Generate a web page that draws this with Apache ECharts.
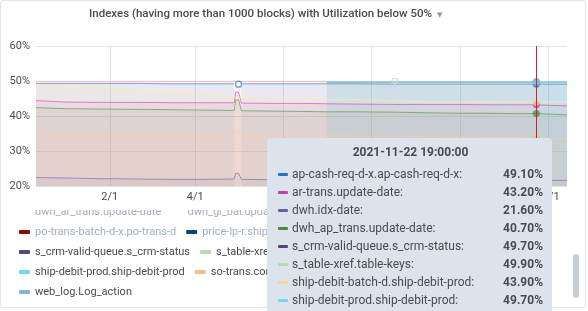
<!DOCTYPE html>
<html lang="en">
<head>
    <meta charset="UTF-8">
    <title>Indexes with Utilization below 50%</title>
    <script src="https://cdn.jsdelivr.net/npm/echarts@6/dist/echarts.min.js"></script>
    <style>
        * {
            margin: 0;
            padding: 0
        }

        html, body {
            width: 100%;
            height: 100%;
            overflow: hidden;
            background: #fff;
        }

        #panel {
            position: absolute;
            left: 0;
            top: 0;
            width: 584px;
            height: 306px;
            border: 1px solid #e1e5ea;
            border-radius: 3px;
        }

        #main {
            position: absolute;
            left: 0;
            top: 0;
            width: 588px;
            height: 311px;
        }
    </style>
</head>
<body>
    <div id="panel"></div>
    <div id="main"></div>
</body>
<script type="text/javascript">
    /*-------------------- data --------------------*/
    var times = ['2020-12-12', '2021-01-01', '2021-01-25', '2021-02-20', '2021-03-15', '2021-04-05',
        '2021-04-28', '2021-04-29', '2021-05-01', '2021-05-02', '2021-05-03', '2021-05-25', '2021-06-15',
        '2021-07-01', '2021-07-20', '2021-08-17', '2021-09-10', '2021-10-01', '2021-10-20', '2021-11-05',
        '2021-11-22 19:00:00', '2021-12-05', '2021-12-14'];

    var apCash    = [49.3, 49.3, 49.3, 49.3, 49.2, 49.2, 49.2, null, 49.1, null, 49.2, 49.2, 49.2, 49.2, 49.2, 49.1, 49.1, 49.1, 49.1, 49.1, 49.1, 49.1, 49.1];
    var arTrans   = [44.4, 44.0, 43.9, 43.9, 43.8, 43.8, 43.8, 46.8, 46.8, 46.8, 43.7, 43.6, 43.6, 43.5, 43.4, 43.3, 43.3, 43.3, 43.2, 43.2, 43.2, 43.0, 42.9];
    var dwhIdx    = [22.4, 22.3, 22.1, 22.0, 21.9, 21.9, 22.0, 23.6, 23.6, 23.6, 21.9, 21.8, 21.8, 21.8, 21.7, 21.7, 21.7, 21.6, 21.6, 21.6, 21.6, 21.6, 21.6];
    var dwhAp     = [42.4, 42.1, 42.0, 41.9, 41.8, 41.7, 41.6, 44.6, 44.6, 44.6, 41.5, 41.4, 41.3, 41.2, 41.2, 41.1, 40.9, 40.8, 40.8, 40.7, 40.7, 40.5, 40.3];
    var sCrm      = [null, null, null, null, null, null, null, null, null, null, null, null, null, 49.7, 49.7, 49.7, 49.7, 49.7, 49.7, 49.7, 49.7, 49.7, 49.7];
    var sTable    = [null, null, null, null, null, null, null, null, null, null, null, null, null, 49.9, 49.9, 49.9, 49.9, 49.9, 49.9, 49.9, 49.9, 49.9, 49.9];
    var shipBatch = [48.8, 48.4, 48.1, 47.5, 46.9, 46.2, 45.5, 45.4, 45.4, 45.3, 45.3, 45.0, 44.9, 44.8, 44.7, 44.4, 44.0, 44.1, 44.0, 44.2, 43.9, 44.0, 44.0];
    var shipProd  = [null, null, null, null, null, null, null, null, null, null, null, null, null, null, null, null, null, null, null, null, 49.7, 49.7, 49.7];
    var soTrans   = [35.0, 34.9, 34.9, 34.8, 34.7, 34.6, 34.6, 36.0, 36.0, 36.0, 34.5, 34.5, 34.4, 34.3, 34.3, 34.2, 34.1, 34.0, 33.9, 33.8, 33.7, 33.6, 33.6];
    var stgOrders = [49.9, 49.9, 49.9, 49.9, 49.9, 49.9, 49.9, 49.9, 49.9, 49.9, 49.9, 49.9, 49.9, 49.9, null, null, null, null, null, null, null, null, null];
    var webLog    = [null, null, null, null, null, null, null, null, null, null, null, null, null, 49.8, 49.8, 49.8, 49.8, 49.8, 49.8, 49.8, 49.8, 49.8, 49.8];

    // series shown in the chart, in drawing order
    var seriesNames = ['ap-cash-req-d-x.ap-cash-req-d-x', 'ar-trans.update-date', 'dwh.idx-date',
        'dwh_ap_trans.update-date', 's_crm-valid-queue.s_crm-status', 's_table-xref.table-keys',
        'ship-debit-batch-d.ship-debit-prod', 'ship-debit-prod.ship-debit-prod', 'so-trans.commit-date',
        'stg_orders.load-date', 'web_log.Log_action'];
    var seriesColors = ['#1F78C1', '#BA43A9', '#705DA0', '#508642', '#584477', '#B7DBAB',
        '#F4D598', '#70DBED', '#F9BA8F', '#F29191', '#82B5D8'];
    var seriesValues = [apCash, arTrans, dwhIdx, dwhAp, sCrm, sTable, shipBatch, shipProd, soTrans, stgOrders, webLog];

    // hidden series (only in legend)
    var hiddenNames = ['dwh_ar_trans.update-date', 'dwh_gl_bal.update-date', 'po-trans-batch-d-x.po-trans-d', 'price-lp-r.ship-date'];
    var hiddenColors = ['#CCA300', '#447EBC', '#890F02', '#0A437C'];

    // single points drawn as rings
    var ringPoints = [{series: 0, index: 8}, {series: 5, index: 15}];

    var yTicks = [20, 30, 40, 50, 60];
    var xTicks = ['2021-02-01', '2021-04-01', '2021-06-01', '2021-08-01', '2021-10-01', '2021-12-01'];

    // legend rows as they appear in the scrolled list
    var legendRows = [
        ['dwh_ar_trans.update-date', 'dwh_gl_bal.update-date'],
        ['po-trans-batch-d-x.po-trans-d', 'price-lp-r.ship-date'],
        ['s_crm-valid-queue.s_crm-status', 's_table-xref.table-keys'],
        ['ship-debit-prod.ship-debit-prod', 'so-trans.commit-date'],
        ['web_log.Log_action']
    ];

    var hoverIndex = 20;

    /*-------------------- chart --------------------*/
    function toTime(s) {
        var p = s.split(/[- :]/).map(Number);
        return new Date(p[0], p[1] - 1, p[2], p[3] || 0, p[4] || 0, p[5] || 0).getTime();
    }

    var textColor = '#464c54';
    var font = 'Roboto';
    var chart = echarts.init(document.getElementById('main'));
    var xs = times.map(toTime);

    var series = seriesNames.map(function (name, i) {
        var s = {
            name: name,
            type: 'line',
            color: seriesColors[i],
            showSymbol: false,
            symbol: 'circle',
            symbolSize: 7,
            lineStyle: {width: 1, opacity: 0.65},
            areaStyle: {opacity: 0.11},
            itemStyle: {opacity: 0.75},
            emphasis: {scale: false, lineStyle: {width: 1, opacity: 0.65}, areaStyle: {opacity: 0.11}},
            data: xs.map(function (t, k) { return [t, seriesValues[i][k]]; })
        };
        var rings = ringPoints.filter(function (r) { return r.series === i; });
        if (rings.length) {
            s.markPoint = {
                symbol: 'circle',
                symbolSize: 6,
                silent: true,
                label: {show: false},
                itemStyle: {color: 'rgba(255,255,255,0.3)', borderColor: seriesColors[i], borderWidth: 1.2, opacity: 0.7},
                data: rings.map(function (r) { return {coord: [xs[r.index], seriesValues[i][r.index]]}; })
            };
        }
        return s;
    });
    hiddenNames.forEach(function (name, i) {
        series.push({name: name, type: 'line', color: hiddenColors[i], showSymbol: false, data: []});
    });

    var legends = legendRows.map(function (row, r) {
        return {
            type: 'plain',
            orient: 'horizontal',
            left: 19,
            top: 205 + r * 20,
            padding: 0,
            itemGap: 10,
            itemWidth: 11,
            itemHeight: 4,
            icon: r === 0 ? 'none' : 'roundRect',
            itemStyle: {opacity: 1},
            selectedMode: false,
            textStyle: {fontSize: 11, color: textColor, fontFamily: font, lineHeight: 14},
            data: row.map(function (n) {
                return hiddenNames.indexOf(n) >= 0 ? {name: n, textStyle: {color: '#a3adbb'}} : {name: n};
            })
        };
    });

    chart.setOption({
        animation: false,
        title: {
            text: '{t|Indexes (having more than 1000 blocks) with Utilization below 50%}{c|▼}',
            left: 89,
            top: 8,
            padding: 0,
            textStyle: {
                rich: {
                    t: {fontSize: 11.5, fontWeight: 500, color: textColor, fontFamily: font},
                    c: {fontSize: 7, color: '#8e959e', fontFamily: 'DejaVu Sans', padding: [2, 0, 0, 5]}
                }
            }
        },
        grid: {left: 36, right: 21, top: 46, bottom: 125},
        legend: legends,
        tooltip: {
            trigger: 'axis',
            triggerOn: 'none',
            alwaysShowContent: true,
            transitionDuration: 0,
            position: [267, 138],
            backgroundColor: '#dde3ec',
            borderWidth: 0,
            borderRadius: 4,
            padding: [5, 9, 5, 11],
            textStyle: {fontSize: 12, color: textColor, fontFamily: font},
            extraCssText: 'width:285px;box-sizing:border-box;box-shadow:none;',
            axisPointer: {
                type: 'line',
                animation: false,
                label: {show: false},
                lineStyle: {color: '#d4202a', width: 1, type: 'solid'}
            },
            formatter: function (params) {
                var idx = params[0].dataIndex;
                var html = '<div style="text-align:center;font-weight:700;line-height:18px;margin-bottom:4px">' + times[idx] + '</div>';
                params.forEach(function (p) {
                    var v = p.value[1];
                    if (v === null || v === undefined) return;
                    html += '<div style="display:flex;align-items:center;line-height:18px">' +
                        '<span style="display:inline-block;width:10px;height:3px;border-radius:1px;background:' + p.color + ';margin-right:4px"></span>' +
                        '<span style="flex:1">' + p.seriesName + ':</span>' +
                        '<b style="font-weight:700">' + v.toFixed(2) + '%</b></div>';
                });
                return html;
            }
        },
        xAxis: {
            type: 'value',
            min: xs[0],
            max: xs[xs.length - 1],
            axisLine: {show: false},
            axisTick: {show: false, customValues: xTicks.map(toTime)},
            axisLabel: {
                customValues: xTicks.map(toTime),
                margin: 6,
                fontSize: 11,
                color: textColor,
                fontFamily: font,
                formatter: function (v) {
                    var d = new Date(v);
                    return (d.getMonth() + 1) + '/' + d.getDate();
                }
            },
            splitLine: {show: true, lineStyle: {color: '#e2e2e2', width: 1}}
        },
        yAxis: {
            type: 'value',
            min: yTicks[0],
            max: yTicks[yTicks.length - 1],
            interval: 10,
            axisLine: {show: false},
            axisTick: {show: false},
            axisLabel: {
                margin: 6,
                fontSize: 11,
                color: textColor,
                fontFamily: font,
                formatter: '{value}%'
            },
            splitLine: {show: true, lineStyle: {color: '#e2e2e2', width: 1}}
        },
        graphic: [
            {type: 'rect', z: 100, shape: {x: 3, y: 203, width: 262, height: 7}, style: {fill: '#fff'}},
            {type: 'rect', z: 100, shape: {x: 573, y: 254, width: 6, height: 44, r: 3}, style: {fill: '#c7cdd5'}}
        ],
        series: series
    });

    chart.dispatchAction({type: 'showTip', seriesIndex: 0, dataIndex: hoverIndex});
</script>
</html>
